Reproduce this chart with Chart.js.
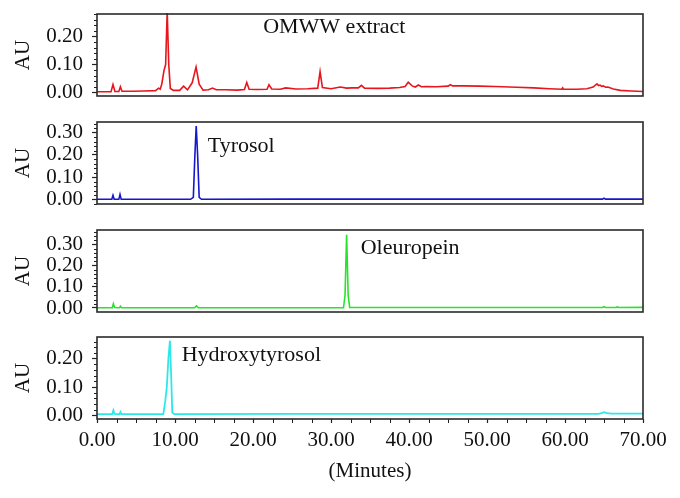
<!DOCTYPE html>
<html>
<head>
<meta charset="utf-8">
<script src="https://cdn.jsdelivr.net/npm/chart.js@4.4.1/dist/chart.umd.min.js"></script>
<style>
  html, body { margin: 0; padding: 0; background: #fff; }
  #wrap { position: relative; width: 680px; height: 498px; overflow: hidden; }
  canvas { position: absolute; left: 0; }
</style>
</head>
<body>
<div id="wrap">
  <canvas id="c1" width="680" height="130" style="top:-10px"></canvas>
  <canvas id="c2" width="680" height="130" style="top:98px"></canvas>
  <canvas id="c3" width="680" height="130" style="top:205.5px"></canvas>
  <canvas id="c4" width="680" height="185" style="top:313px"></canvas>
</div>
<script>
// ---- Data: [minutes, AU] pairs ----
const omwwTrace = [[0,0.003],[1.8,0.003],[2.05,0.029],[2.3,0.004],[2.8,0.004],[3.0,0.021],[3.2,0.005],[4.5,0.005],[6.0,0.006],[7.5,0.007],[7.9,0.016],[8.1,0.012],[8.3,0.03],[8.6,0.08],[8.8,0.10],[9.0,0.29],[9.2,0.10],[9.4,0.015],[9.8,0.008],[10.6,0.008],[11.1,0.023],[11.6,0.01],[12.2,0.035],[12.7,0.091],[13.1,0.03],[13.6,0.009],[14.3,0.01],[14.8,0.016],[15.3,0.01],[16.5,0.01],[18.0,0.009],[18.9,0.011],[19.2,0.036],[19.5,0.012],[20.5,0.011],[21.8,0.012],[22.05,0.028],[22.4,0.013],[23.5,0.012],[24.2,0.017],[25.5,0.013],[27.0,0.014],[28.3,0.016],[28.6,0.075],[28.9,0.018],[30.0,0.014],[31.2,0.02],[32.0,0.016],[32.7,0.017],[33.5,0.017],[33.9,0.026],[34.3,0.016],[36.0,0.015],[37.5,0.016],[38.8,0.018],[39.5,0.022],[39.9,0.037],[40.4,0.024],[40.8,0.02],[41.2,0.027],[41.6,0.021],[42.2,0.022],[43.5,0.021],[45.0,0.023],[45.3,0.028],[45.6,0.024],[47.0,0.024],[49.0,0.023],[51.0,0.022],[53.8,0.019],[56.0,0.017],[58.0,0.014],[59.6,0.012],[59.7,0.017],[59.8,0.012],[61.5,0.012],[62.8,0.014],[63.6,0.02],[64.1,0.031],[64.3,0.025],[64.5,0.027],[64.7,0.022],[64.9,0.024],[65.2,0.019],[65.5,0.02],[66.2,0.013],[67.1,0.008],[68.5,0.006],[70,0.004]];
const tyrosolTrace = [[0,0.001],[1.9,0.001],[2.05,0.019],[2.2,0.001],[2.8,0.001],[2.95,0.023],[3.1,0.001],[12.0,0.001],[12.35,0.01],[12.55,0.2],[12.72,0.33],[12.9,0.2],[13.1,0.01],[13.4,0.001],[25,0.002],[40,0.002],[55,0.002],[64.8,0.002],[65.0,0.006],[65.2,0.002],[70,0.002]];
const oleuropeinTrace = [[0,0.001],[1.95,0.001],[2.1,0.02],[2.25,0.002],[2.9,0.001],[3.0,0.008],[3.15,0.001],[12.5,0.001],[12.75,0.01],[13.0,0.001],[31.6,0.001],[31.8,0.06],[32.0,0.347],[32.2,0.06],[32.4,0.002],[50,0.002],[64.8,0.002],[65.0,0.006],[65.2,0.002],[66.5,0.002],[66.7,0.005],[66.9,0.002],[70,0.003]];
const hydroxytyrosolTrace = [[0,0.004],[1.95,0.004],[2.1,0.018],[2.25,0.005],[2.9,0.004],[3.0,0.012],[3.15,0.004],[8.5,0.004],[8.75,0.05],[8.95,0.10],[9.15,0.2],[9.35,0.264],[9.5,0.15],[9.65,0.01],[9.9,0.004],[25,0.005],[45,0.005],[64.3,0.005],[64.8,0.009],[65.0,0.011],[65.4,0.008],[66,0.006],[70,0.006]];

const panelNames = ['OMWW extract', 'Tyrosol', 'Oleuropein', 'Hydroxytyrosol'];
const yRanges = [[-0.012, 0.28], [-0.02, 0.348], [-0.019, 0.369], [-0.013, 0.277]];
const xRange = [0, 70];
const xMajorStep = 10, xMinorStep = 2.5;
const yMajorStep = 0.1, yMinorStep = 0.02;
const yTitle = 'AU';
const xTitle = '(Minutes)';
// label anchor (minutes, AU) per panel
const labelAnchors = [[21.3, 0.232], [14.2, 0.24], [33.8, 0.284], [10.86, 0.212]];

const colors = ['rgb(232,22,28)', 'rgb(22,22,205)', 'rgb(40,228,40)', 'rgb(45,232,232)'];
const traces = [omwwTrace, tyrosolTrace, oleuropeinTrace, hydroxytyrosolTrace];
const FONT = "'Liberation Serif', 'Times New Roman', serif";
const AXIS = '#222';

const framePlugin = {
  id: 'frame',
  afterDraw(chart, args, opts) {
    const {ctx, chartArea: a, scales} = chart;
    ctx.save();
    ctx.strokeStyle = AXIS;
    ctx.lineWidth = 1;
    const ys = scales.y;
    for (let k = Math.ceil(ys.min / yMinorStep); k * yMinorStep <= ys.max + 1e-9; k++) {
      const v = k * yMinorStep;
      if (Math.abs(v / yMajorStep - Math.round(v / yMajorStep)) < 1e-6) continue;
      const py = Math.round(ys.getPixelForValue(v)) + 0.5;
      ctx.beginPath(); ctx.moveTo(a.left - 3, py); ctx.lineTo(a.left, py); ctx.stroke();
    }
    if (opts.xMinor) {
      const xs = scales.x;
      for (let v = xRange[0]; v <= xRange[1] + 1e-9; v += xMinorStep) {
        if (Math.abs(v / xMajorStep - Math.round(v / xMajorStep)) < 1e-6) continue;
        const px = Math.round(xs.getPixelForValue(v)) + 0.5;
        ctx.beginPath(); ctx.moveTo(px, a.bottom); ctx.lineTo(px, a.bottom + 4); ctx.stroke();
      }
    }
    ctx.strokeStyle = '#2a2a2a';
    ctx.lineWidth = 1.6;
    ctx.strokeRect(a.left, a.top, a.right - a.left, a.bottom - a.top);
    if (opts.text) {
      ctx.fillStyle = '#111';
      ctx.font = "22px " + FONT;
      ctx.textAlign = 'left';
      ctx.textBaseline = 'middle';
      ctx.fillText(opts.text, scales.x.getPixelForValue(opts.at[0]), ys.getPixelForValue(opts.at[1]));
    }
    ctx.restore();
  }
};

function makePanel(i) {
  const bottomPanel = i === 3;
  const ctx = document.getElementById('c' + (i + 1));
  new Chart(ctx, {
    type: 'line',
    data: {
      datasets: [{
        data: traces[i].map(p => ({x: p[0], y: p[1]})),
        borderColor: colors[i],
        borderWidth: i === 3 ? 1.8 : 1.6,
        pointRadius: 0,
        tension: 0,
        fill: false,
        clip: 1
      }]
    },
    options: {
      responsive: false,
      devicePixelRatio: 1,
      animation: false,
      events: [],
      layout: { padding: { left: 0, right: 37, top: 24, bottom: bottomPanel ? 10 : 24 } },
      plugins: {
        legend: { display: false },
        tooltip: { enabled: false },
        frame: { text: panelNames[i], at: labelAnchors[i], xMinor: bottomPanel }
      },
      scales: {
        x: {
          type: 'linear',
          min: xRange[0], max: xRange[1],
          display: bottomPanel,
          afterFit: s => { if (bottomPanel) s.height = 69; },
          border: { display: false },
          grid: { display: true, drawOnChartArea: false, drawTicks: true, tickLength: 4, color: AXIS, tickWidth: 1.2 },
          ticks: {
            stepSize: xMajorStep, autoSkip: false, maxRotation: 0, padding: 5,
            color: '#111', font: { family: FONT, size: 21 },
            callback: v => Number(v).toFixed(2)
          },
          title: { display: bottomPanel, text: xTitle, color: '#111', font: { family: FONT, size: 21 }, padding: { top: 4, bottom: 4 } }
        },
        y: {
          type: 'linear',
          min: yRanges[i][0], max: yRanges[i][1],
          afterFit: s => { s.width = 97; },
          afterBuildTicks: s => {
            s.ticks = s.ticks.filter(t => Math.abs(t.value / yMajorStep - Math.round(t.value / yMajorStep)) < 1e-6);
          },
          border: { display: false },
          grid: { display: true, drawOnChartArea: false, drawTicks: true, tickLength: 5, color: AXIS, tickWidth: 1.2 },
          ticks: {
            stepSize: yMajorStep, autoSkip: false, includeBounds: false, padding: 9,
            color: '#111', font: { family: FONT, size: 21 },
            callback: v => Number(v).toFixed(2)
          },
          title: { display: true, text: yTitle, color: '#111', font: { family: FONT, size: 21 }, padding: { top: 11, bottom: 0 } }
        }
      }
    },
    plugins: [framePlugin]
  });
}
for (let i = 0; i < 4; i++) makePanel(i);
</script>
</body>
</html>
